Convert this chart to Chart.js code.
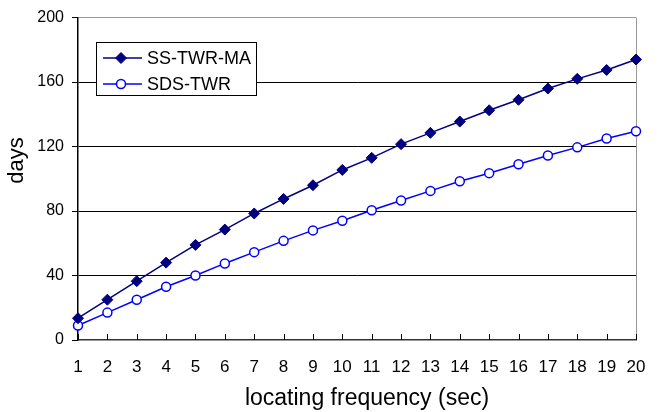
<!DOCTYPE html>
<html>
<head>
<meta charset="utf-8">
<script src="https://cdn.jsdelivr.net/npm/chart.js@4"></script>
<style>
  html, body { margin: 0; padding: 0; background: #fff; }
  #wrap { width: 663px; height: 412px; position: relative; }
</style>
</head>
<body>
<div id="wrap"><canvas id="chart"></canvas></div>
<script>
const frequencies = ['1','2','3','4','5','6','7','8','9','10','11','12','13','14','15','16','17','18','19','20'];
const ssTwrMa = [13.5, 25, 36.5, 48, 59, 68.5, 78.5, 87.5, 96, 105.5, 113, 121.5, 128.5, 135.5, 142.5, 149, 156, 162, 167.5, 174];
const sdsTwr = [9, 17, 25, 33, 40, 47.5, 54.5, 61.5, 68, 74, 80.5, 86.5, 92.5, 98.5, 103.5, 109, 114.5, 119.5, 125, 129.5];
const yTicks = [0, 40, 80, 120, 160, 200];

const FONT = '"Liberation Sans", Arial, sans-serif';

// axis titles, inward x ticks and the boxed legend
const extras = {
    id: 'extras',
    afterDraw(chart) {
        const ctx = chart.ctx;
        const xs = chart.scales.x;
        const bottom = chart.chartArea.bottom;

        // x ticks point up into the plot
        ctx.save();
        ctx.strokeStyle = '#000';
        ctx.lineWidth = 1;
        frequencies.forEach((f, i) => {
            const px = Math.round(xs.getPixelForValue(i)) + 0.5;
            ctx.beginPath();
            ctx.moveTo(px, bottom - 6);
            ctx.lineTo(px, bottom);
            ctx.stroke();
        });
        ctx.restore();

        // axis titles
        ctx.save();
        ctx.fillStyle = '#000';
        ctx.font = '23px ' + FONT;
        ctx.textAlign = 'center';
        ctx.textBaseline = 'alphabetic';
        ctx.fillText('locating frequency (sec)', 367, 405);
        ctx.font = '22px ' + FONT;
        ctx.translate(23, 160.5);
        ctx.rotate(-Math.PI / 2);
        ctx.fillText('days', 0, 0);
        ctx.restore();

        // legend
        ctx.save();
        const x0 = 96, y0 = 42, w = 160, h = 53;
        ctx.fillStyle = '#fff';
        ctx.fillRect(x0, y0, w, h);
        ctx.strokeStyle = '#000';
        ctx.lineWidth = 1;
        ctx.strokeRect(x0 + 0.5, y0 + 0.5, w, h);
        ctx.font = '18px ' + FONT;
        ctx.textBaseline = 'middle';
        ctx.textAlign = 'left';
        chart.data.datasets.forEach((ds, i) => {
            const cy = y0 + 16 + i * 26;
            const mx = x0 + 25;
            ctx.strokeStyle = ds.borderColor;
            ctx.lineWidth = 1.5;
            ctx.beginPath();
            ctx.moveTo(x0 + 7, cy);
            ctx.lineTo(x0 + 46, cy);
            ctx.stroke();
            ctx.fillStyle = ds.pointBackgroundColor;
            ctx.strokeStyle = ds.pointBorderColor;
            ctx.lineWidth = ds.pointBorderWidth;
            ctx.beginPath();
            if (ds.pointStyle === 'circle') {
                ctx.arc(mx, cy, ds.pointRadius, 0, Math.PI * 2);
            } else {
                const r = ds.pointRadius;
                ctx.moveTo(mx, cy - r);
                ctx.lineTo(mx + r, cy);
                ctx.lineTo(mx, cy + r);
                ctx.lineTo(mx - r, cy);
                ctx.closePath();
            }
            ctx.fill();
            ctx.stroke();
            ctx.fillStyle = '#000';
            ctx.fillText(ds.label, x0 + 51, cy + 1);
        });
        ctx.restore();
    }
};

new Chart(document.getElementById('chart'), {
    type: 'line',
    data: {
        labels: frequencies,
        datasets: [
            {
                label: 'SS-TWR-MA',
                data: ssTwrMa,
                borderColor: '#000080',
                borderWidth: 1.5,
                pointStyle: 'rectRot',
                pointRadius: 5.5,
                pointBackgroundColor: '#000080',
                pointBorderColor: '#000080',
                pointBorderWidth: 1,
                tension: 0
            },
            {
                label: 'SDS-TWR',
                data: sdsTwr,
                borderColor: '#0000ff',
                borderWidth: 1.5,
                pointStyle: 'circle',
                pointRadius: 4.5,
                pointBackgroundColor: '#ffffff',
                pointBorderColor: '#0000ff',
                pointBorderWidth: 1.5,
                tension: 0
            }
        ]
    },
    options: {
        responsive: true,
        maintainAspectRatio: false,
        animation: false,
        events: [],
        clip: false,
        layout: { padding: { left: 0, right: 27, top: 15, bottom: 0 } },
        plugins: {
            legend: { display: false },
            tooltip: { enabled: false }
        },
        scales: {
            x: {
                offset: false,
                grid: {
                    color: c => c.index === frequencies.length - 1 ? '#999' : 'rgba(0,0,0,0)',
                    drawTicks: false
                },
                border: { color: '#333', width: 1.5 },
                ticks: {
                    color: '#000',
                    font: { family: FONT, size: 17 },
                    maxRotation: 0,
                    autoSkip: false,
                    padding: 17
                },
                afterFit: s => { s.height = 72; }
            },
            y: {
                min: 0,
                max: 200,
                afterBuildTicks: s => { s.ticks = yTicks.map(v => ({ value: v })); },
                grid: {
                    color: c => c.tick.value === 200 ? '#999' : (c.tick.value === 0 ? 'rgba(0,0,0,0)' : '#000'),
                    tickColor: '#000',
                    tickLength: 6
                },
                border: { color: '#000', width: 1.5 },
                ticks: {
                    color: '#000',
                    font: { family: FONT, size: 16 },
                    padding: 8
                },
                afterFit: s => { s.width = 78; }
            }
        }
    },
    plugins: [extras]
});
</script>
</body>
</html>
